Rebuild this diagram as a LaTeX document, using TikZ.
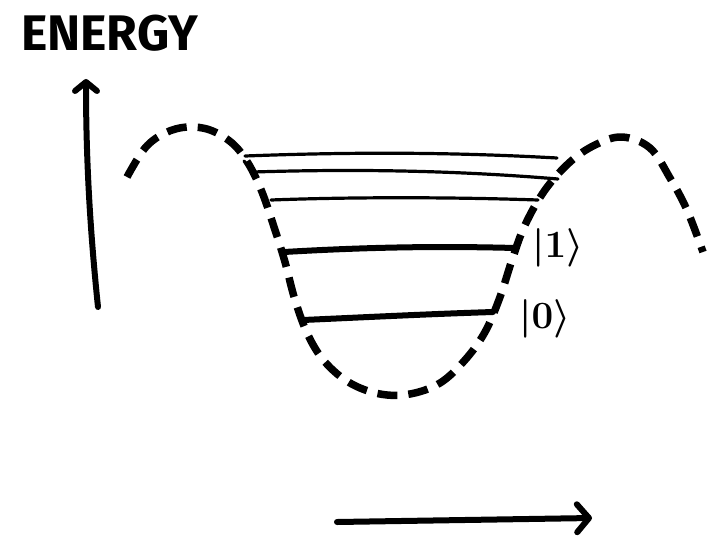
\documentclass[tikz,border=0pt]{standalone}
\usepackage{fontspec}
\newfontfamily\handfont{Fira Sans}
\usetikzlibrary{arrows.meta}
\newcommand{\myket}[1]{\scalebox{1.55}{\boldmath$|\mathbf{#1}\rangle$}}
\begin{document}
\begin{tikzpicture}[x=1pt,y=-1pt,
  axis/.style={line width=6pt, line cap=round, -{Straight Barb[length=9pt,width=22pt,round]}},
  well/.style={line width=7.5pt, dash pattern=on 20pt off 11pt},
  thinlevel/.style={line width=3.2pt, line cap=round},
  thicklevel/.style={line width=6pt, line cap=round},
  ket/.style={font=\fontsize{24.88}{26}\selectfont, inner sep=0pt}]
\useasboundingbox (0,0) rectangle (709,536);
\node[font=\handfont\bfseries\fontsize{50}{50}\selectfont, anchor=base west, inner sep=0pt] (energy) at (21,50) {ENERGY};
% axes
\coordinate (ybot) at (98,307);
\coordinate (ytop) at (86,79);
\draw[axis] (ybot) .. controls (90,230) and (86,160) .. (ytop);
\coordinate (xl) at (337,522);
\coordinate (xr) at (592,518);
\draw[axis, -{Straight Barb[length=12pt,width=28pt,round]}] (xl) -- (xr);
% potential
\draw[well] plot[smooth, tension=0.6] coordinates {
 (127,177) (145,148) (165,133) (187,127) (210,130) (232,143) (248,163)
 (262,192) (275,230) (285,262) (295,300) (308,335) (325,362) (350,383)
 (380,394) (410,394) (440,383) (465,360) (485,332) (500,297) (512,260)
 (525,225) (545,190) (570,162) (595,145) (622,137) (650,148) (670,178)
 (687,210) (703,252)};
% levels
\coordinate (l1a) at (245,156); \coordinate (l1b) at (557,158);
\coordinate (l2a) at (253,172); \coordinate (l2b) at (558,179);
\coordinate (l3a) at (271,200); \coordinate (l3b) at (538,200);
\coordinate (l4a) at (284,252); \coordinate (l4b) at (515,248);
\coordinate (l5a) at (303,320); \coordinate (l5b) at (493,312);
\draw[thinlevel] (l1a) .. controls (350,152) and (450,152) .. (l1b);
\draw[thinlevel] (244,161) -- (l2a) .. controls (350,169) and (450,170) .. (l2b);
\draw[thinlevel] (l3a) .. controls (350,197) and (450,197) .. (l3b);
\draw[thicklevel] (l4a) .. controls (370,247) and (440,246) .. (l4b);
\draw[thicklevel] (l5a) .. controls (370,317) and (430,314) .. (l5b);
\node[ket] (k1) at (558,248) {\myket{1}};
\node[ket] (k0) at (545,319) {\myket{0}};
\end{tikzpicture}
\end{document}
